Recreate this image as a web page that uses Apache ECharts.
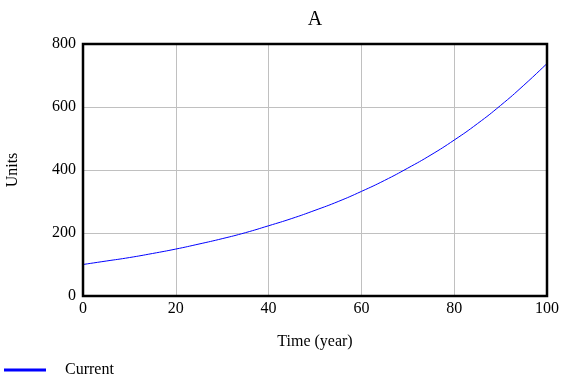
<!DOCTYPE html>
<html><head><meta charset="utf-8">
<script src="https://cdn.jsdelivr.net/npm/echarts@6/dist/echarts.min.js"></script>
<style>html,body{margin:0;padding:0;background:#fff}#c{width:576px;height:384px}</style>
</head><body><div id="c"></div>
<script>
var years = [0,5,10,15,20,25,30,35,40,45,50,55,60,65,70,75,80,85,90,95,100];
var current = [100,111,122,135,149,165,182,201,223,246,272,300,332,367,406,448,495,547,605,669,738];
var xTicks = [0,20,40,60,80,100];
var yTicks = [0,200,400,600,800];
var font = 'Liberation Serif';
var chart = echarts.init(document.getElementById('c'));
chart.setOption({
  animation:false,
  title:{text:'A',left:315,textAlign:'center',top:10,padding:0,textStyle:{fontFamily:font,fontSize:20,fontWeight:'normal',color:'#000'}},
  grid:{left:83,right:29,top:44,bottom:88,show:true,borderColor:'#000',borderWidth:2.5,backgroundColor:'transparent',z:5,outerBoundsMode:'none',containLabel:false},
  legend:{left:4,top:362,padding:0,icon:'rect',itemWidth:42,itemHeight:3,textStyle:{fontFamily:font,fontSize:16,color:'#000',padding:[0,0,0,14]},data:['Current']},
  xAxis:{type:'value',min:0,max:100,interval:20,name:'Time (year)',nameLocation:'middle',nameGap:38,
    nameTextStyle:{fontFamily:font,fontSize:16,color:'#000'},
    axisLine:{show:false},axisTick:{show:false},
    axisLabel:{fontFamily:font,fontSize:16,color:'#000',margin:5,formatter:function(v){return xTicks.indexOf(v)>=0?String(v):'';}},
    splitLine:{show:true,lineStyle:{color:'#c0c0c0',width:1}}},
  yAxis:{type:'value',min:0,max:800,interval:200,name:'Units',nameLocation:'middle',nameGap:62,
    nameTextStyle:{fontFamily:font,fontSize:16,color:'#000'},
    axisLine:{show:false},axisTick:{show:false},
    axisLabel:{fontFamily:font,fontSize:16,color:'#000',margin:7,formatter:function(v){return yTicks.indexOf(v)>=0?String(v):'';}},
    splitLine:{show:true,lineStyle:{color:'#c0c0c0',width:1}}},
  series:[{name:'Current',type:'line',smooth:true,showSymbol:false,
    data:years.map(function(y,i){return [y,current[i]];}),
    lineStyle:{color:'#0000ff',width:1},itemStyle:{color:'#0000ff'}}]
});
</script></body></html>
